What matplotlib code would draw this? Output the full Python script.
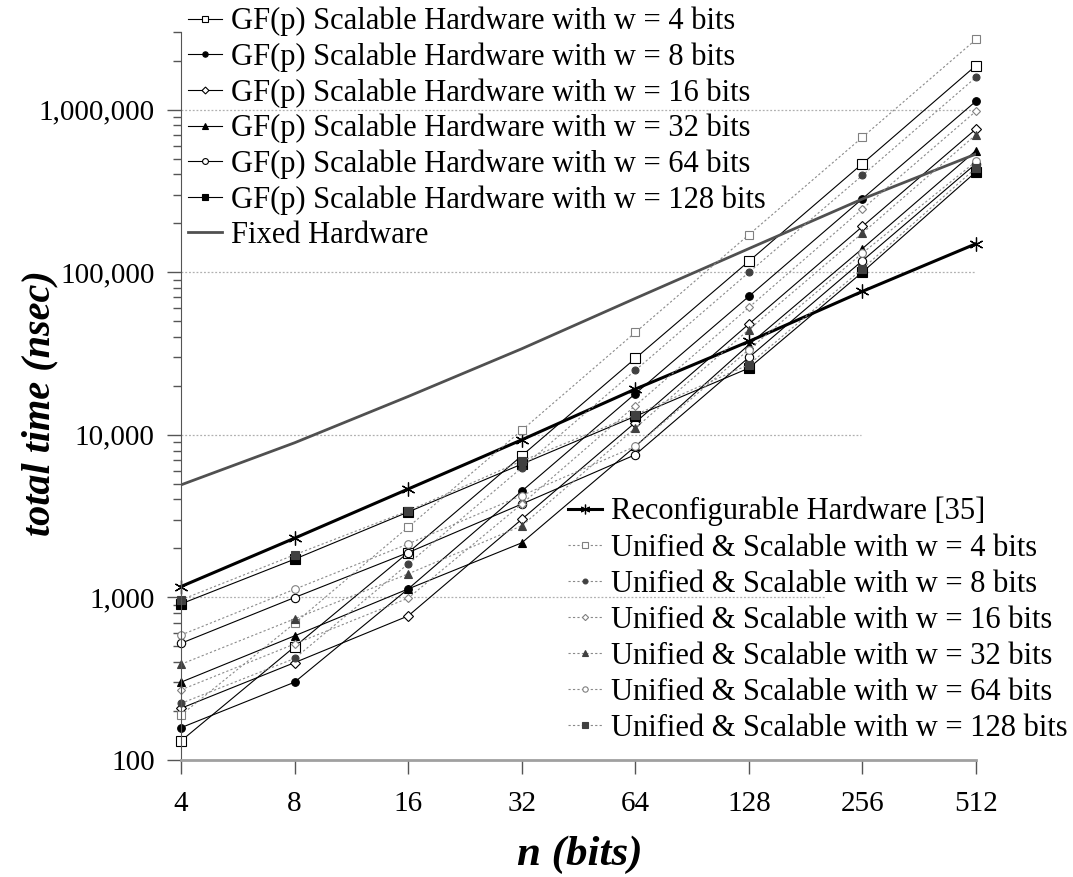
import numpy as np
import matplotlib
matplotlib.use('Agg')
import matplotlib.pyplot as plt
from matplotlib.ticker import FuncFormatter, LogLocator, NullFormatter

plt.rcParams['font.family'] = ['Liberation Serif', 'DejaVu Serif']

# operand size n (bits)
n_bits = [4, 8, 16, 32, 64, 128, 256, 512]

# GF(p) scalable hardware, total time (nsec)
gf_w4 = [131, 497, 1886, 7430, 29500, 116700, 465000, 1866000]
gf_w8 = [158, 301, 1127, 4500, 17900, 71000, 283000, 1127000]
gf_w16 = [208, 397, 769, 3020, 11900, 48000, 191000, 760000]
gf_w32 = [301, 580, 1127, 2165, 8480, 35800, 139700, 560000]
gf_w64 = [522, 998, 1886, 3750, 7540, 29900, 117700, 465000]
gf_w128 = [912, 1718, 3350, 6600, 13000, 25700, 100000, 414000]

fixed_hw = [4920, 8930, 17200, 33800, 69000, 139600, 282000, 533000]
reconf_hw = [1166, 2313, 4640, 9310, 19100, 37500, 76200, 149600]

# unified & scalable
un_w4 = [189, 693, 2704, 10650, 42600, 170000, 676000, 2700000]
un_w8 = [223, 421, 1607, 6270, 24900, 99700, 394000, 1580000]
un_w16 = [270, 517, 989, 3750, 15100, 60700, 245000, 978000]
un_w32 = [388, 738, 1395, 2755, 11000, 44300, 174000, 701000]
un_w64 = [587, 1122, 2133, 4230, 8480, 33400, 131000, 480000]
un_w128 = [966, 1828, 3404, 6900, 13270, 27000, 105000, 438000]

word_sizes = [4, 8, 16, 32, 64, 128]
gf_series = [gf_w4, gf_w8, gf_w16, gf_w32, gf_w64, gf_w128]
un_series = [un_w4, un_w8, un_w16, un_w32, un_w64, un_w128]
markers = ['s', 'o', 'D', '^', 'o', 's']
filled = [False, True, False, True, False, True]
msizes = [6.5, 5.5, 5, 6, 6, 6.5]

fig = plt.figure(figsize=(10.73, 8.77), dpi=100)
ax = fig.add_axes([181/1073, (877-760)/877, (976-181)/1073, (760-32)/877])
ax.set_xscale('log', base=2)
ax.set_yscale('log')
ax.set_xlim(4, 512)
ax.set_ylim(100, 3e6)

# dotted gridlines (partly hidden behind the lower legend in the original)
grid_ext = {1e3: 0.81, 1e4: 0.855, 1e5: 1.0, 1e6: 1.0}
for g, xm in grid_ext.items():
    ax.axhline(g, xmin=0, xmax=xm, color='#b0b0b0', lw=0.9, ls=(0, (1.5, 1.5)), zorder=0)

h_gf = []
for w, ys, m, f, ms in zip(word_sizes, gf_series, markers, filled, msizes):
    l, = ax.plot(n_bits, ys, color='black', lw=0.8, marker=m, ms=ms,
                 mfc='black' if f else 'white', mec='black', mew=0.8, clip_on=False,
                 label='GF(p) Scalable Hardware with w = %d bits' % w)
    h_gf.append(l)

l_fixed, = ax.plot(n_bits, fixed_hw, color='#505050', lw=2.0, label='Fixed Hardware')

l_reconf, = ax.plot(n_bits, reconf_hw, color='black', lw=2.2, marker=(6, 2, 0), ms=10,
                    mew=0.9, clip_on=False, label='Reconfigurable Hardware [35]')

h_un = []
for w, ys, m, f, ms in zip(word_sizes, un_series, markers, filled, msizes):
    l, = ax.plot(n_bits, ys, color='#8a8a8a', lw=0.8, ls=(0, (2, 2)), marker=m, ms=ms - 0.5,
                 mfc='#404040' if f else 'white', mec='#404040' if f else '#808080', mew=0.8,
                 clip_on=False, label='Unified & Scalable with w = %d bits' % w)
    h_un.append(l)

# axes styling
for s in ['top', 'right']:
    ax.spines[s].set_visible(False)
ax.spines['left'].set_color('#555555')
ax.spines['bottom'].set_color('#a0a0a0')
ax.spines['bottom'].set_linewidth(2)

ax.set_xticks(n_bits)
ax.set_xticklabels([str(v) for v in n_bits])
ax.xaxis.set_minor_formatter(NullFormatter())
ax.tick_params(axis='x', which='major', direction='out', length=10, width=1, color='#555555',
               labelsize=21, pad=12)
ax.tick_params(axis='x', which='minor', length=0)

ax.yaxis.set_major_locator(LogLocator(base=10))
ax.yaxis.set_minor_locator(LogLocator(base=10, subs=np.arange(2, 10)))
ax.yaxis.set_major_formatter(FuncFormatter(lambda v, p: '{:,.0f}'.format(v)))
ax.yaxis.set_minor_formatter(NullFormatter())
ax.tick_params(axis='y', which='major', direction='out', length=10, width=1, color='#555555',
               labelsize=21, pad=9)
ax.tick_params(axis='y', which='minor', direction='out', length=6, width=1, color='#555555')

fig.text(40/1073, 1-403/877, 'total time (nsec)', rotation=90, ha='center', va='center',
         fontsize=29, fontweight='bold', fontstyle='italic')
fig.text(580/1073, 1-855/877, 'n (bits)', ha='center', va='center',
         fontsize=31, fontweight='bold', fontstyle='italic')

leg_kw = dict(loc='upper left', frameon=False, fontsize=22, handlelength=1.1,
              handletextpad=0.3, labelspacing=0.2, borderpad=0, borderaxespad=0,
              markerscale=0.7)
leg1 = fig.legend(handles=h_gf + [l_fixed], bbox_to_anchor=(188/1073, 1-7/877), **leg_kw)
leg_kw['labelspacing'] = 0.23
leg2 = fig.legend(handles=[l_reconf] + h_un, bbox_to_anchor=(568/1073, 1-497/877), **leg_kw)

fig.savefig('out.png', dpi=100)
